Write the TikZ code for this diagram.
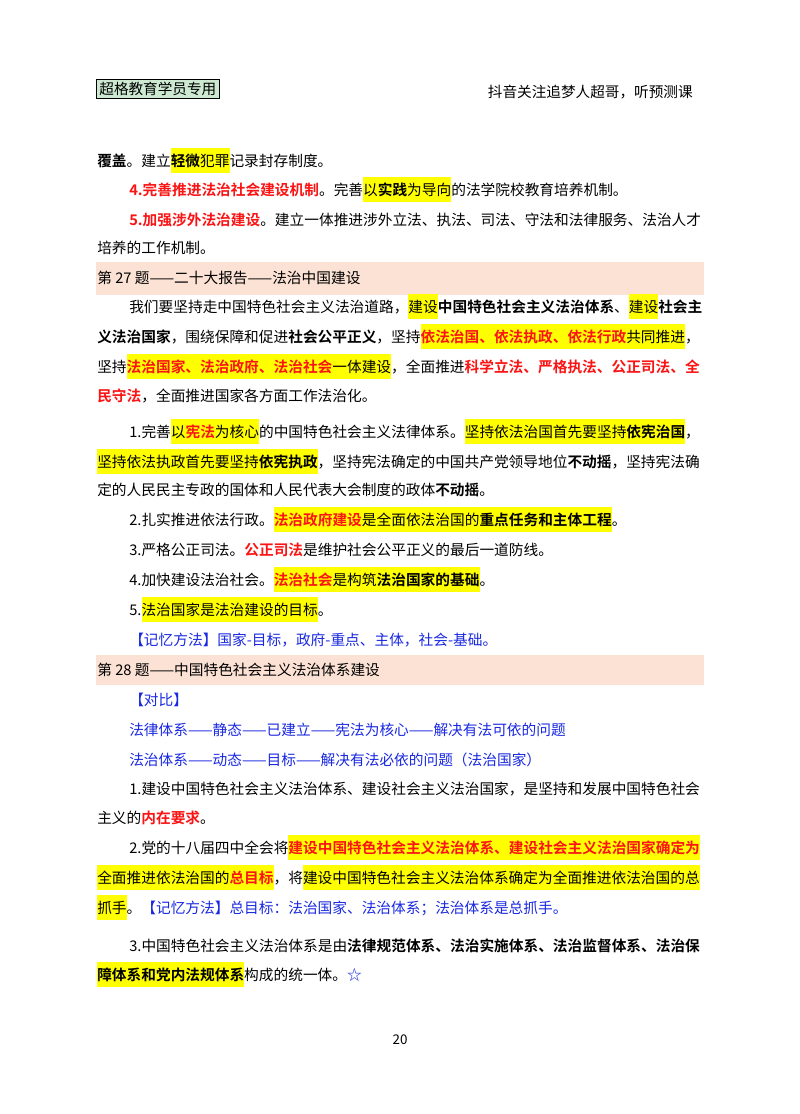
\documentclass[tikz,border=0pt]{standalone}
\usepackage{fontspec}
\setmainfont{Noto Sans CJK SC}[BoldFont={Noto Sans CJK SC Bold}]
\definecolor{mblue}{RGB}{25,40,225}
\definecolor{band}{RGB}{251,226,212}
\definecolor{hdr}{RGB}{205,233,210}
\definecolor{hly}{RGB}{255,255,0}
\definecolor{mred}{RGB}{250,20,20}
\newcommand\hl[1]{\begingroup\setlength{\fboxsep}{0pt}\colorbox{hly}{\rule[-4.8pt]{0pt}{17.5pt}#1}\endgroup}
\newcommand\rb[1]{{\bfseries\color{mred}#1}}
\newcommand\bb[1]{{\bfseries #1}}
\begin{document}
\begin{tikzpicture}[x=0.025cm,y=-0.025cm,
  ln/.style={anchor=base west,inner sep=0pt,font=\fontsize{10.45}{13}\selectfont},
  bl/.style={ln,text=mblue}]
\useasboundingbox (0,0) rectangle (800,1114);
\fill[white] (0,0) rectangle (800,1114);
% header
\node[draw=black,line width=0.8pt,fill=hdr,inner sep=2pt,anchor=west,font=\fontsize{10.4}{13}\selectfont] (hb) at (96,89) {超格教育学员专用};
\node[anchor=base east,inner sep=0pt,font=\fontsize{10.4}{13}\selectfont] (hr) at (693,97) {抖音关注追梦人超哥，听预测课};
% bands
\fill[band] (96,262) rectangle (704,295);
\fill[band] (96,655) rectangle (704,685);
\node[ln] (l1) at (97,166) {\bb{覆盖}。建立\hl{\bb{轻微}犯罪}记录封存制度。};
\node[ln] (l2) at (129,195) {\rb{4.完善推进法治社会建设机制}。完善\hl{以\bb{实践}为导向}的法学院校教育培养机制。};
\node[ln] (l3) at (129,225) {\rb{5.加强涉外法治建设}。建立一体推进涉外立法、执法、司法、守法和法律服务、法治人才};
\node[ln] (l4) at (97,253) {培养的工作机制。};
\node[ln] (t27) at (97,283) {第 27 题——二十大报告——法治中国建设};
\node[ln] (l5) at (129,312) {我们要坚持走中国特色社会主义法治道路，\hl{建设}\bb{中国特色社会主义法治体系}、\hl{建设}\bb{社会主}};
\node[ln] (l6) at (97,342) {\bb{义法治国家}，围绕保障和促进\bb{社会公平正义}，坚持\hl{\rb{依法治国、依法执政、依法行政}共同推进}，};
\node[ln] (l7) at (97,372) {坚持\hl{\rb{法治国家、法治政府、法治社会}一体建设}，全面推进\rb{科学立法、严格执法、公正司法、全}};
\node[ln] (l8) at (97,401) {\rb{民守法}，全面推进国家各方面工作法治化。};
\node[ln] (l9) at (129,437) {1.完善\hl{以\rb{宪法}为核心}的中国特色社会主义法律体系。\hl{坚持依法治国首先要坚持\bb{依宪治国}}，};
\node[ln] (l10) at (97,467) {\hl{坚持依法执政首先要坚持\bb{依宪执政}}，坚持宪法确定的中国共产党领导地位\bb{不动摇}，坚持宪法确};
\node[ln] (l11) at (97,495) {定的人民民主专政的国体和人民代表大会制度的政体\bb{不动摇}。};
\node[ln] (l12) at (129,525) {2.扎实推进依法行政。\hl{\rb{法治政府建设}是全面依法治国的\bb{重点任务和主体工程}}。};
\node[ln] (l13) at (129,555) {3.严格公正司法。\rb{公正司法}是维护社会公平正义的最后一道防线。};
\node[ln] (l14) at (129,585) {4.加快建设法治社会。\hl{\rb{法治社会}是构筑\bb{法治国家的基础}}。};
\node[ln] (l15) at (129,615) {5.\hl{法治国家是法治建设的目标}。};
\node[bl] (l16) at (129,645) {【记忆方法】国家-目标，政府-重点、主体，社会-基础。};
\node[ln] (t28) at (97,675) {第 28 题——中国特色社会主义法治体系建设};
\node[bl] (l17) at (129,705) {【对比】};
\node[bl] (l18) at (129,735) {法律体系——静态——已建立——宪法为核心——解决有法可依的问题};
\node[bl] (l19) at (129,765) {法治体系——动态——目标——解决有法必依的问题（法治国家）};
\node[ln] (l20) at (129,794) {1.建设中国特色社会主义法治体系、建设社会主义法治国家，是坚持和发展中国特色社会};
\node[ln] (l21) at (97,823) {主义的\rb{内在要求}。};
\node[ln] (l22) at (129,853) {2.党的十八届四中全会将\hl{\rb{建设中国特色社会主义法治体系、建设社会主义法治国家确定为}}};
\node[ln] (l23) at (97,883) {\hl{全面推进依法治国的\rb{总目标}}，将\hl{建设中国特色社会主义法治体系确定为全面推进依法治国的总}};
\node[ln] (l24) at (97,913) {\hl{抓手}。{\color{mblue}【记忆方法】总目标：法治国家、法治体系；法治体系是总抓手。}};
\node[ln] (l25) at (129,951) {3.中国特色社会主义法治体系是由\bb{法律规范体系、法治实施体系、法治监督体系、法治保}};
\node[ln] (l26) at (97,980) {\hl{\bb{障体系和党内法规体系}}构成的统一体。{\color{mblue}☆}};
\node[anchor=base,inner sep=0pt,font=\fontsize{9.5}{11}\selectfont] (pg) at (400,1044) {20};
\end{tikzpicture}
\end{document}
